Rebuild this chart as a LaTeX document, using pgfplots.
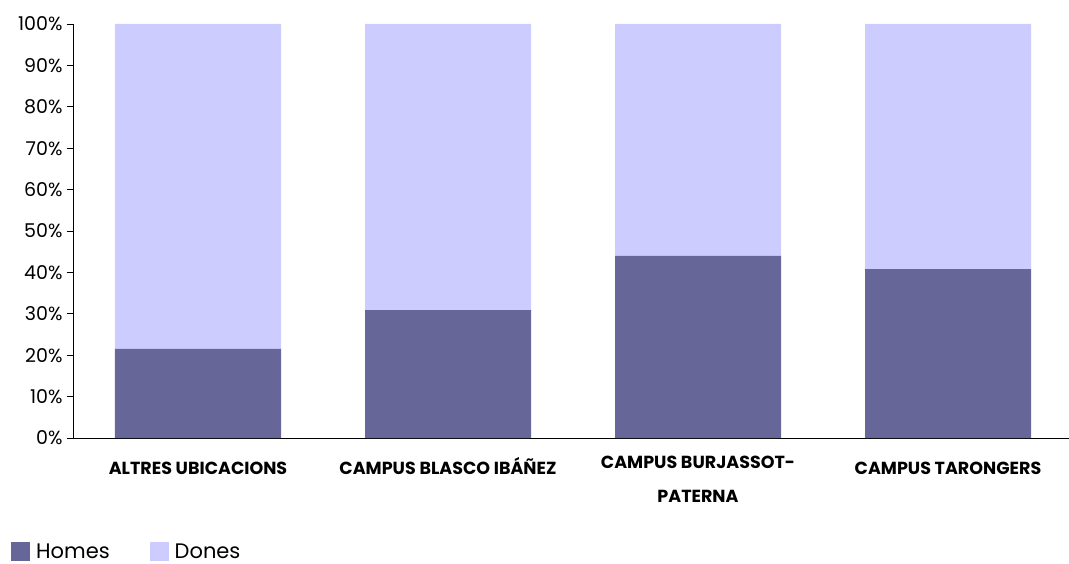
\documentclass[border=0pt]{standalone}
\usepackage{pgfplots}
\pgfplotsset{compat=1.18}
\usepackage{fontspec}
\setmainfont{Poppins}
\definecolor{homes}{HTML}{666699}
\definecolor{dones}{HTML}{CCCCFF}
\begin{document}
\begin{tikzpicture}
\begin{axis}[
    scale only axis,
    width=996pt, height=414pt,
    ybar stacked,
    bar width=166pt,
    xmin=-0.5, xmax=3.484,
    ymin=0, ymax=100,
    axis x line*=bottom,
    axis y line*=left,
    axis line style={black, line width=0.9pt},
    tick align=outside,
    major tick length=6pt,
    tick style={black, line width=0.8pt},
    ytick={0,10,...,100},
    yticklabels={0\%,10\%,20\%,30\%,40\%,50\%,60\%,70\%,80\%,90\%,100\%},
    yticklabel style={font=\fontsize{19}{22}\selectfont, xshift=-1pt},
    xtick={0,1,2,3},
    x tick style={draw=none},
    xticklabels={ALTRES UBICACIONS, CAMPUS BLASCO IBÁÑEZ, {CAMPUS BURJASSOT-\\PATERNA}, CAMPUS TARONGERS},
    xticklabel style={font=\bfseries\fontsize{17.5}{34}\selectfont, align=center, anchor=north,
        execute at begin node={\rule{0pt}{18pt}}, yshift=-9pt},
    extra x ticks={-0.5,0.5,1.5,2.5},
    extra x tick labels={},
    extra x tick style={tick style={black, line width=0.8pt, draw=black}, major tick length=5pt},
    legend style={draw=none, at={(-0.0653,-0.275)}, anchor=west, legend columns=2,
        font=\fontsize{21}{24}\selectfont,
        /tikz/every even column/.append style={column sep=38pt}},
    legend image code/.code={\fill[#1] (0pt,-9pt) rectangle (19pt,10pt);},
    legend cell align=left,
]
\addplot[fill=homes, draw=none] coordinates {(0,21.5) (1,30.9) (2,44.0) (3,40.8)};
\addplot[fill=dones, draw=none] coordinates {(0,78.5) (1,69.1) (2,56.0) (3,59.2)};
\legend{\hspace{4pt}Homes, \hspace{4pt}Dones}
\end{axis}
\pgfresetboundingbox
\path (-73pt,-125pt) rectangle (996pt,438pt);
\end{tikzpicture}
\end{document}
